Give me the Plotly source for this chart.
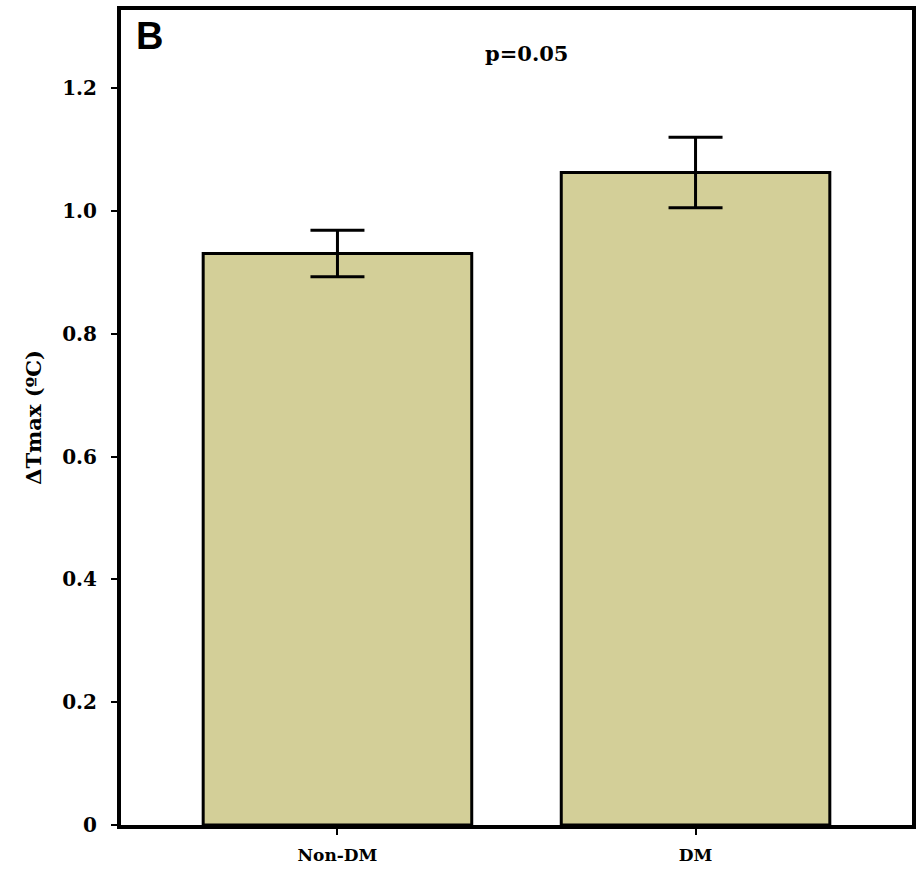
import plotly.graph_objects as go

categories = ["Non-DM", "DM"]
means = [0.931, 1.063]
sem = [0.038, 0.0575]
y_tick_vals = [0, 0.2, 0.4, 0.6, 0.8, 1.0, 1.2]
y_tick_text = ["0", "0.2", "0.4", "0.6", "0.8", "1.0", "1.2"]
x_pos = [0, 1]

serif = "DejaVu Serif"

fig = go.Figure()
fig.add_trace(go.Bar(
    x=x_pos, y=means, width=0.75,
    marker=dict(color="#D3CF98", line=dict(color="black", width=3)),
    error_y=dict(type="data", array=sem, visible=True, color="black", thickness=3, width=27),
    showlegend=False,
))

fig.update_layout(
    width=919, height=869,
    margin=dict(l=121, r=3, t=10, b=44),
    paper_bgcolor="white", plot_bgcolor="white",
    xaxis=dict(
        range=[-0.6045, 1.6045], tickvals=x_pos, ticktext=categories,
        showline=True, linecolor="black", linewidth=4, mirror=True,
        ticks="outside", ticklen=6, tickwidth=2, tickcolor="black",
        showgrid=False, zeroline=False, ticklabelstandoff=6,
        tickfont=dict(family=serif, size=17, color="black", weight="bold"),
    ),
    yaxis=dict(
        range=[0, 1.3276], tickvals=y_tick_vals, ticktext=y_tick_text,
        showline=True, linecolor="black", linewidth=4, mirror=True,
        ticks="outside", ticklen=6, tickwidth=2, tickcolor="black",
        showgrid=False, zeroline=False, ticklabelstandoff=10,
        tickfont=dict(family=serif, size=20, color="black", weight="bold"),
        title=dict(text="ΔTmax (ºC)", standoff=16,
                   font=dict(family=serif, size=21, color="black", weight="bold")),
    ),
    annotations=[
        dict(text="<b>B</b>", xref="paper", yref="paper", x=0.0365, y=0.968,
             xanchor="center", yanchor="middle", showarrow=False,
             font=dict(family="Liberation Sans", size=38, color="black")),
        dict(text="<b>p=0.05</b>", xref="paper", yref="paper", x=0.513, y=0.947,
             xanchor="center", yanchor="middle", showarrow=False,
             font=dict(family=serif, size=21, color="black")),
    ],
)

fig.write_html("out.html", config={"displayModeBar": False},
               post_script="document.body.style.margin='0';document.body.style.padding='0';")
